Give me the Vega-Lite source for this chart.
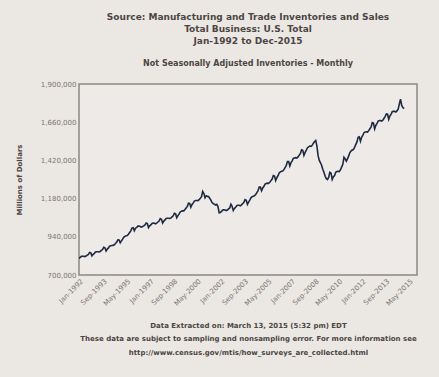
{
  "$schema": "https://vega.github.io/schema/vega-lite/v6.json",
  "width": 338,
  "height": 191,
  "autosize": {"type": "none"},
  "padding": {"left": 79, "top": 84, "right": 22, "bottom": 102},
  "background": "#ebe8e4",
  "config": {
    "view": {"stroke": "#8c8680", "strokeWidth": 1.5, "fill": "#edeae7"},
    "font": "DejaVu Sans"
  },
  "title": {
    "text": ["Source: Manufacturing and Trade Inventories and Sales", "Total Business: U.S. Total", "Jan-1992 to Dec-2015"],
    "subtitle": "Not Seasonally Adjusted Inventories - Monthly",
    "anchor": "middle",
    "frame": "group",
    "font": "DejaVu Sans",
    "fontSize": 9,
    "fontWeight": "bold",
    "color": "#4d4543",
    "lineHeight": 12,
    "subtitleFont": "DejaVu Sans",
    "subtitleFontSize": 8,
    "subtitleFontWeight": "bold",
    "subtitleColor": "#4d4543",
    "subtitlePadding": 14,
    "offset": 12
  },
  "data": {
    "values": [
      {"d":"1992-01-01","v":805000},{"d":"1992-02-01","v":810000},{"d":"1992-03-01","v":817000},{"d":"1992-04-01","v":818000},{"d":"1992-05-01","v":818000},{"d":"1992-06-01","v":816000},{"d":"1992-07-01","v":819000},{"d":"1992-08-01","v":825000},{"d":"1992-09-01","v":830000},{"d":"1992-10-01","v":842000},{"d":"1992-11-01","v":839000},{"d":"1992-12-01","v":820000},
      {"d":"1993-01-01","v":830000},{"d":"1993-02-01","v":836000},{"d":"1993-03-01","v":844000},{"d":"1993-04-01","v":846000},{"d":"1993-05-01","v":846000},{"d":"1993-06-01","v":845000},{"d":"1993-07-01","v":848000},{"d":"1993-08-01","v":854000},{"d":"1993-09-01","v":860000},{"d":"1993-10-01","v":874000},{"d":"1993-11-01","v":871000},{"d":"1993-12-01","v":851000},
      {"d":"1994-01-01","v":863000},{"d":"1994-02-01","v":870000},{"d":"1994-03-01","v":881000},{"d":"1994-04-01","v":884000},{"d":"1994-05-01","v":885000},{"d":"1994-06-01","v":886000},{"d":"1994-07-01","v":890000},{"d":"1994-08-01","v":898000},{"d":"1994-09-01","v":907000},{"d":"1994-10-01","v":921000},{"d":"1994-11-01","v":920000},{"d":"1994-12-01","v":902000},
      {"d":"1995-01-01","v":914000},{"d":"1995-02-01","v":925000},{"d":"1995-03-01","v":937000},{"d":"1995-04-01","v":943000},{"d":"1995-05-01","v":947000},{"d":"1995-06-01","v":948000},{"d":"1995-07-01","v":956000},{"d":"1995-08-01","v":967000},{"d":"1995-09-01","v":977000},{"d":"1995-10-01","v":995000},{"d":"1995-11-01","v":997000},{"d":"1995-12-01","v":978000},
      {"d":"1996-01-01","v":994000},{"d":"1996-02-01","v":999000},{"d":"1996-03-01","v":1007000},{"d":"1996-04-01","v":1007000},{"d":"1996-05-01","v":1005000},{"d":"1996-06-01","v":1001000},{"d":"1996-07-01","v":1004000},{"d":"1996-08-01","v":1009000},{"d":"1996-09-01","v":1014000},{"d":"1996-10-01","v":1027000},{"d":"1996-11-01","v":1023000},{"d":"1996-12-01","v":998000},
      {"d":"1997-01-01","v":1009000},{"d":"1997-02-01","v":1015000},{"d":"1997-03-01","v":1024000},{"d":"1997-04-01","v":1026000},{"d":"1997-05-01","v":1025000},{"d":"1997-06-01","v":1022000},{"d":"1997-07-01","v":1026000},{"d":"1997-08-01","v":1033000},{"d":"1997-09-01","v":1039000},{"d":"1997-10-01","v":1054000},{"d":"1997-11-01","v":1050000},{"d":"1997-12-01","v":1026000},
      {"d":"1998-01-01","v":1039000},{"d":"1998-02-01","v":1046000},{"d":"1998-03-01","v":1055000},{"d":"1998-04-01","v":1057000},{"d":"1998-05-01","v":1057000},{"d":"1998-06-01","v":1055000},{"d":"1998-07-01","v":1058000},{"d":"1998-08-01","v":1065000},{"d":"1998-09-01","v":1072000},{"d":"1998-10-01","v":1088000},{"d":"1998-11-01","v":1084000},{"d":"1998-12-01","v":1060000},
      {"d":"1999-01-01","v":1073000},{"d":"1999-02-01","v":1084000},{"d":"1999-03-01","v":1096000},{"d":"1999-04-01","v":1101000},{"d":"1999-05-01","v":1103000},{"d":"1999-06-01","v":1103000},{"d":"1999-07-01","v":1111000},{"d":"1999-08-01","v":1121000},{"d":"1999-09-01","v":1131000},{"d":"1999-10-01","v":1151000},{"d":"1999-11-01","v":1149000},{"d":"1999-12-01","v":1126000},
      {"d":"2000-01-01","v":1143000},{"d":"2000-02-01","v":1153000},{"d":"2000-03-01","v":1164000},{"d":"2000-04-01","v":1168000},{"d":"2000-05-01","v":1168000},{"d":"2000-06-01","v":1167000},{"d":"2000-07-01","v":1173000},{"d":"2000-08-01","v":1182000},{"d":"2000-09-01","v":1192000},{"d":"2000-10-01","v":1225000},{"d":"2000-11-01","v":1212000},{"d":"2000-12-01","v":1185000},
      {"d":"2001-01-01","v":1198000},{"d":"2001-02-01","v":1194000},{"d":"2001-03-01","v":1193000},{"d":"2001-04-01","v":1182000},{"d":"2001-05-01","v":1170000},{"d":"2001-06-01","v":1155000},{"d":"2001-07-01","v":1148000},{"d":"2001-08-01","v":1144000},{"d":"2001-09-01","v":1140000},{"d":"2001-10-01","v":1144000},{"d":"2001-11-01","v":1130000},{"d":"2001-12-01","v":1091000},
      {"d":"2002-01-01","v":1093000},{"d":"2002-02-01","v":1100000},{"d":"2002-03-01","v":1108000},{"d":"2002-04-01","v":1109000},{"d":"2002-05-01","v":1108000},{"d":"2002-06-01","v":1104000},{"d":"2002-07-01","v":1108000},{"d":"2002-08-01","v":1115000},{"d":"2002-09-01","v":1121000},{"d":"2002-10-01","v":1145000},{"d":"2002-11-01","v":1132000},{"d":"2002-12-01","v":1105000},
      {"d":"2003-01-01","v":1118000},{"d":"2003-02-01","v":1126000},{"d":"2003-03-01","v":1136000},{"d":"2003-04-01","v":1138000},{"d":"2003-05-01","v":1138000},{"d":"2003-06-01","v":1135000},{"d":"2003-07-01","v":1141000},{"d":"2003-08-01","v":1148000},{"d":"2003-09-01","v":1156000},{"d":"2003-10-01","v":1173000},{"d":"2003-11-01","v":1169000},{"d":"2003-12-01","v":1144000},
      {"d":"2004-01-01","v":1158000},{"d":"2004-02-01","v":1171000},{"d":"2004-03-01","v":1185000},{"d":"2004-04-01","v":1192000},{"d":"2004-05-01","v":1195000},{"d":"2004-06-01","v":1197000},{"d":"2004-07-01","v":1205000},{"d":"2004-08-01","v":1218000},{"d":"2004-09-01","v":1230000},{"d":"2004-10-01","v":1252000},{"d":"2004-11-01","v":1252000},{"d":"2004-12-01","v":1229000},
      {"d":"2005-01-01","v":1247000},{"d":"2005-02-01","v":1257000},{"d":"2005-03-01","v":1271000},{"d":"2005-04-01","v":1275000},{"d":"2005-05-01","v":1277000},{"d":"2005-06-01","v":1276000},{"d":"2005-07-01","v":1283000},{"d":"2005-08-01","v":1293000},{"d":"2005-09-01","v":1303000},{"d":"2005-10-01","v":1325000},{"d":"2005-11-01","v":1322000},{"d":"2005-12-01","v":1294000},
      {"d":"2006-01-01","v":1312000},{"d":"2006-02-01","v":1325000},{"d":"2006-03-01","v":1341000},{"d":"2006-04-01","v":1348000},{"d":"2006-05-01","v":1352000},{"d":"2006-06-01","v":1353000},{"d":"2006-07-01","v":1362000},{"d":"2006-08-01","v":1375000},{"d":"2006-09-01","v":1388000},{"d":"2006-10-01","v":1413000},{"d":"2006-11-01","v":1413000},{"d":"2006-12-01","v":1385000},
      {"d":"2007-01-01","v":1406000},{"d":"2007-02-01","v":1417000},{"d":"2007-03-01","v":1432000},{"d":"2007-04-01","v":1435000},{"d":"2007-05-01","v":1437000},{"d":"2007-06-01","v":1435000},{"d":"2007-07-01","v":1442000},{"d":"2007-08-01","v":1453000},{"d":"2007-09-01","v":1464000},{"d":"2007-10-01","v":1487000},{"d":"2007-11-01","v":1484000},{"d":"2007-12-01","v":1452000},
      {"d":"2008-01-01","v":1470000},{"d":"2008-02-01","v":1484000},{"d":"2008-03-01","v":1500000},{"d":"2008-04-01","v":1505000},{"d":"2008-05-01","v":1510000},{"d":"2008-06-01","v":1508000},{"d":"2008-07-01","v":1515000},{"d":"2008-08-01","v":1528000},{"d":"2008-09-01","v":1538000},{"d":"2008-10-01","v":1545000},{"d":"2008-11-01","v":1510000},{"d":"2008-12-01","v":1450000},
      {"d":"2009-01-01","v":1420000},{"d":"2009-02-01","v":1405000},{"d":"2009-03-01","v":1390000},{"d":"2009-04-01","v":1365000},{"d":"2009-05-01","v":1345000},{"d":"2009-06-01","v":1320000},{"d":"2009-07-01","v":1305000},{"d":"2009-08-01","v":1300000},{"d":"2009-09-01","v":1315000},{"d":"2009-10-01","v":1345000},{"d":"2009-11-01","v":1340000},{"d":"2009-12-01","v":1300000},
      {"d":"2010-01-01","v":1318000},{"d":"2010-02-01","v":1325000},{"d":"2010-03-01","v":1345000},{"d":"2010-04-01","v":1350000},{"d":"2010-05-01","v":1352000},{"d":"2010-06-01","v":1350000},{"d":"2010-07-01","v":1360000},{"d":"2010-08-01","v":1378000},{"d":"2010-09-01","v":1395000},{"d":"2010-10-01","v":1440000},{"d":"2010-11-01","v":1430000},{"d":"2010-12-01","v":1415000},
      {"d":"2011-01-01","v":1431000},{"d":"2011-02-01","v":1448000},{"d":"2011-03-01","v":1469000},{"d":"2011-04-01","v":1479000},{"d":"2011-05-01","v":1485000},{"d":"2011-06-01","v":1488000},{"d":"2011-07-01","v":1502000},{"d":"2011-08-01","v":1519000},{"d":"2011-09-01","v":1536000},{"d":"2011-10-01","v":1565000},{"d":"2011-11-01","v":1568000},{"d":"2011-12-01","v":1540000},
      {"d":"2012-01-01","v":1565000},{"d":"2012-02-01","v":1578000},{"d":"2012-03-01","v":1594000},{"d":"2012-04-01","v":1599000},{"d":"2012-05-01","v":1600000},{"d":"2012-06-01","v":1598000},{"d":"2012-07-01","v":1607000},{"d":"2012-08-01","v":1619000},{"d":"2012-09-01","v":1631000},{"d":"2012-10-01","v":1657000},{"d":"2012-11-01","v":1654000},{"d":"2012-12-01","v":1618000},
      {"d":"2013-01-01","v":1640000},{"d":"2013-02-01","v":1652000},{"d":"2013-03-01","v":1667000},{"d":"2013-04-01","v":1670000},{"d":"2013-05-01","v":1670000},{"d":"2013-06-01","v":1667000},{"d":"2013-07-01","v":1673000},{"d":"2013-08-01","v":1685000},{"d":"2013-09-01","v":1697000},{"d":"2013-10-01","v":1712000},{"d":"2013-11-01","v":1710000},{"d":"2013-12-01","v":1678000},
      {"d":"2014-01-01","v":1700000},{"d":"2014-02-01","v":1711000},{"d":"2014-03-01","v":1726000},{"d":"2014-04-01","v":1729000},{"d":"2014-05-01","v":1728000},{"d":"2014-06-01","v":1724000},{"d":"2014-07-01","v":1731000},{"d":"2014-08-01","v":1742000},{"d":"2014-09-01","v":1775000},{"d":"2014-10-01","v":1805000},{"d":"2014-11-01","v":1765000},{"d":"2014-12-01","v":1752000},
      {"d":"2015-01-01","v":1745000}
    ]
  },
  "mark": {"type": "line", "color": "#1f2940", "strokeWidth": 1.6, "clip": true},
  "encoding": {
    "x": {
      "field": "d",
      "type": "temporal",
      "scale": {
        "type": "utc",
        "domain": [{"year": 1992, "month": 1, "date": 1, "utc": true}, {"year": 2015, "month": 12, "date": 1, "utc": true}]
      },
      "axis": {
        "values": [
          {"year": 1992, "month": 1, "date": 1, "utc": true},
          {"year": 1993, "month": 9, "date": 1, "utc": true},
          {"year": 1995, "month": 5, "date": 1, "utc": true},
          {"year": 1997, "month": 1, "date": 1, "utc": true},
          {"year": 1998, "month": 9, "date": 1, "utc": true},
          {"year": 2000, "month": 5, "date": 1, "utc": true},
          {"year": 2002, "month": 1, "date": 1, "utc": true},
          {"year": 2003, "month": 9, "date": 1, "utc": true},
          {"year": 2005, "month": 5, "date": 1, "utc": true},
          {"year": 2007, "month": 1, "date": 1, "utc": true},
          {"year": 2008, "month": 9, "date": 1, "utc": true},
          {"year": 2010, "month": 5, "date": 1, "utc": true},
          {"year": 2012, "month": 1, "date": 1, "utc": true},
          {"year": 2013, "month": 9, "date": 1, "utc": true},
          {"year": 2015, "month": 5, "date": 1, "utc": true}
        ],
        "labelExpr": "utcFormat(datum.value, '%b-%Y')",
        "labelAngle": -45,
        "labelAlign": "right",
        "labelBaseline": "top",
        "labelFontSize": 7,
        "labelColor": "#7a7470",
        "labelPadding": 2,
        "labelOverlap": false,
        "labelFlush": false,
        "grid": false,
        "ticks": false,
        "domain": false,
        "title": ["Data Extracted on: March 13, 2015 (5:32 pm) EDT", "These data are subject to sampling and nonsampling error. For more information see", "http://www.census.gov/mtis/how_surveys_are_collected.html"],
        "titleFontSize": 7,
        "titleFontWeight": "bold",
        "titleColor": "#4d4543",
        "titleLineHeight": 13.5,
        "titlePadding": 15
      }
    },
    "y": {
      "field": "v",
      "type": "quantitative",
      "scale": {"domain": [700000, 1900000], "nice": false, "zero": false},
      "axis": {
        "values": [700000, 940000, 1180000, 1420000, 1660000, 1900000],
        "labelExpr": "format(datum.value, ',')",
        "labelFontSize": 7,
        "labelColor": "#7a7470",
        "labelPadding": 3,
        "grid": false,
        "ticks": false,
        "domain": false,
        "title": "Millions of Dollars",
        "titleFontSize": 7,
        "titleFontWeight": "bold",
        "titleColor": "#4d4543",
        "titlePadding": 18
      }
    }
  }
}
